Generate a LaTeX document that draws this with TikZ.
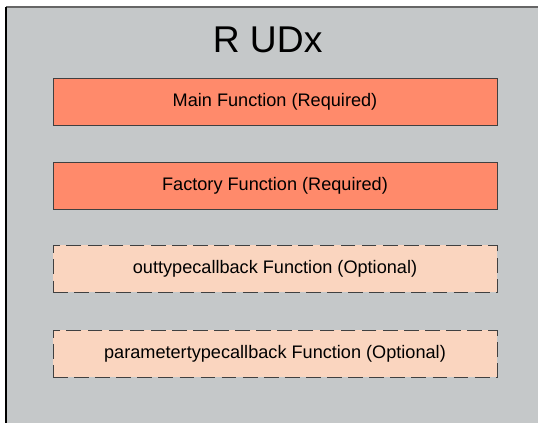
\documentclass[tikz,border=0pt]{standalone}
\usepackage{fontspec}
\setmainfont{Liberation Sans}
\usetikzlibrary{positioning}

\definecolor{udxbg}{HTML}{C5C8C9}
\definecolor{reqfill}{HTML}{FF8A6B}
\definecolor{optfill}{HTML}{FAD5BF}

\begin{document}
\begin{tikzpicture}[every node/.style={font=\fontsize{12.9}{15}\selectfont},
  func/.style={rectangle, draw=black!75, line width=0.7pt, minimum width=11.1cm, minimum height=1.175cm},
  req/.style={func, fill=reqfill},
  opt/.style={func, fill=optfill, dash pattern=on 10.5pt off 4.5pt}]
  \useasboundingbox (0,0) rectangle (13.45,-10.575);
  % Outer container
  \fill[udxbg] (0.15,-0.175) rectangle (13.45,-10.575);
  \draw[black!60, line width=1.2pt] (0.15,-0.175) -- (13.45,-0.175);
  \draw[black, line width=1.5pt] (0.15,-0.175) -- (0.15,-10.575);
  \node[font=\fontsize{26.5}{30}\selectfont] (title) at (6.69,-1.0) {R UDx};
  % Function blocks
  \node[req] (main)    at (6.875,-2.5375) {Main Function (Required)};
  \node[req] (factory) at (6.875,-4.6375) {Factory Function (Required)};
  \node[opt] (outtype) at (6.875,-6.725)  {outtypecallback Function (Optional)};
  \node[opt] (partype) at (6.875,-8.8375) {parametertypecallback Function (Optional)};
\end{tikzpicture}
\end{document}
